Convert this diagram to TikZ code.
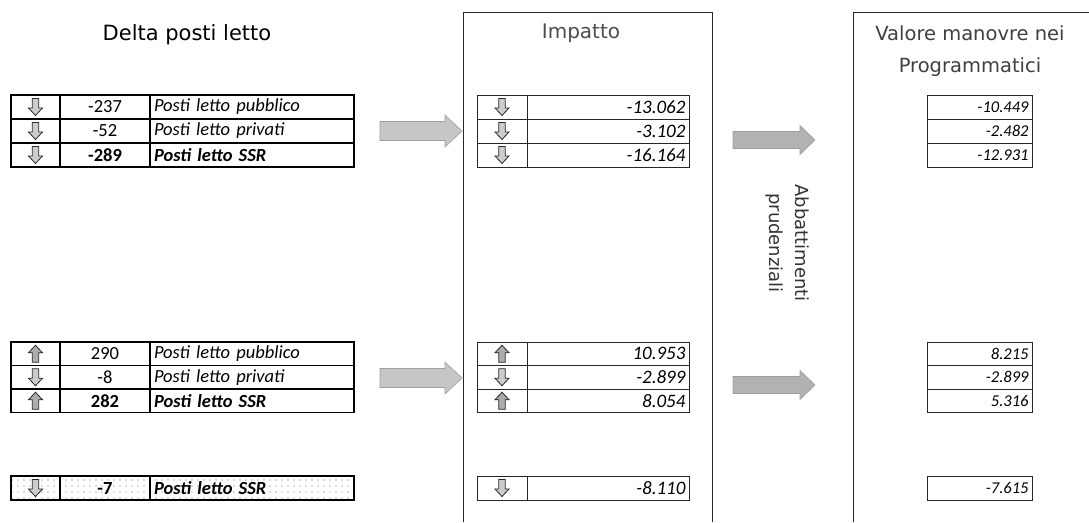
\documentclass[tikz,border=0pt]{standalone}
\usepackage{fontspec}
\setmainfont{Carlito}
\newfontfamily\titlefont{DejaVu Sans}
\usetikzlibrary{patterns.meta}
\newcommand{\lfont}{\fontsize{18.5}{21}\selectfont}
\newcommand{\ifont}{\fontsize{19}{21}\selectfont}
\newcommand{\vfont}{\fontsize{16.5}{19}\selectfont}
\newcommand{\Lrow}[7]{%
  \node[lc,#7,minimum width=49,minimum height=#3] (#1i) at (11,#2) {};
  \pic at (#1i.center) {#4};
  \node[lc,#7,minimum width=90,minimum height=#3] (#1n) at (60,#2) {#5};
  \node[lc,#7,minimum width=204,minimum height=#3,text width=196,align=left] (#1t) at (150,#2) {\itshape #6};
}
\newcommand{\Irow}[5]{%
  \node[ic,minimum width=50,minimum height=#3] (#1i) at (477,#2) {};
  \pic at (#1i.center) {#4};
  \node[ic,minimum width=162,minimum height=#3,text width=155,align=right] (#1v) at (527,#2) {#5};
}
\newcommand{\Vrow}[4]{%
  \node[vc,minimum width=105,minimum height=#3,text width=98,align=right] (#1) at (927,#2) {#4};
}
\begin{document}
\begin{tikzpicture}[x=1pt,y=-1pt,
  lc/.style={draw=black,line width=1.5pt,anchor=north west,inner ysep=0pt,inner xsep=4pt,outer sep=0pt,font=\lfont},
  lbold/.style={font=\lfont\bfseries},
  ldots/.style={pattern={Dots[radius=0.6pt,distance=6pt]},pattern color=black!60},
  ic/.style={draw=black!85,line width=0.8pt,anchor=north west,inner ysep=0pt,inner xsep=3.5pt,outer sep=0pt,font=\ifont\itshape},
  vc/.style={draw=black!85,line width=0.9pt,anchor=north west,inner ysep=0pt,inner xsep=3.5pt,outer sep=0pt,font=\vfont\itshape},
  title/.style={font=\titlefont\fontsize{20}{24}\selectfont,inner sep=0pt},
  iconline/.style={draw=black!85,line width=0.8pt,line join=miter},
  bigarr/.style={draw=gray!75,line width=0.6pt},
  boxline/.style={draw=black!85,line width=1pt},
  dnicon/.pic={\path[iconline,fill=gray!40] (-3.2,-8.5) -- (3.2,-8.5) -- (3.2,1) -- (7,1) -- (0,8.5) -- (-7,1) -- (-3.2,1) -- cycle;},
  upicon/.pic={\path[iconline,fill=gray!65] (-3.2,8.5) -- (3.2,8.5) -- (3.2,-1) -- (7,-1) -- (0,-8.5) -- (-7,-1) -- (-3.2,-1) -- cycle;},
  bigarrow/.pic={\path[bigarr,fill=gray!45] (0,-9.5) -- (65,-9.5) -- (65,-16) -- (82,0) -- (65,16) -- (65,9.5) -- (0,9.5) -- cycle;},
  midarrow/.pic={\path[bigarr,fill=gray!60] (0,-8.5) -- (67,-8.5) -- (67,-14.5) -- (82,0) -- (67,14.5) -- (67,8.5) -- (0,8.5) -- cycle;}
]
\useasboundingbox (0,0) rectangle (1089,522);

% titles
\node[title,font=\titlefont\fontsize{21}{24}\selectfont] (tdelta) at (187,35) {Delta posti letto};
\node[title,text=black!70] (timp) at (581,33) {Impatto};
\node[title,text=black!75,font=\titlefont\fontsize{19.5}{24}\selectfont] (tval1) at (970,33) {Valore manovre nei};
\node[title,text=black!75,font=\titlefont\fontsize{19.5}{24}\selectfont] (tval2) at (970,67) {Programmatici};

% frames
\draw[boxline] (463,522) -- (463,12) -- (712,12) -- (712,522);
\draw[boxline] (853,522) -- (853,12) -- (1089,12);

% left tables
\Lrow{la}{95}{24}{dnicon}{-237}{Posti letto pubblico}{}
\Lrow{lb}{119}{24}{dnicon}{-52}{Posti letto privati}{}
\Lrow{lc}{143}{24}{dnicon}{-289}{Posti letto SSR}{lbold}
\Lrow{ld}{342}{23.5}{upicon}{290}{Posti letto pubblico}{}
\Lrow{le}{365.5}{23.5}{dnicon}{-8}{Posti letto privati}{}
\Lrow{lf}{389}{23.5}{upicon}{282}{Posti letto SSR}{lbold}
\Lrow{lg}{476}{24}{dnicon}{-7}{Posti letto SSR}{lbold,ldots}

% impatto tables
\Irow{ia}{95}{24}{dnicon}{-13.062}
\Irow{ib}{119}{24}{dnicon}{-3.102}
\Irow{ic}{143}{24}{dnicon}{-16.164}
\Irow{id}{342}{23.5}{upicon}{10.953}
\Irow{ie}{365.5}{23.5}{dnicon}{-2.899}
\Irow{if}{389}{23.5}{upicon}{8.054}
\Irow{ig}{476}{24}{dnicon}{-8.110}

% values tables
\Vrow{va}{95}{24}{-10.449}
\Vrow{vb}{119}{24}{-2.482}
\Vrow{vc}{143}{24}{-12.931}
\Vrow{vd}{342}{23.5}{8.215}
\Vrow{ve}{365.5}{23.5}{-2.899}
\Vrow{vf}{389}{23.5}{5.316}
\Vrow{vg}{476}{24}{-7.615}

% big arrows
\pic (a1) at (380,131) {bigarrow};
\pic (a2) at (380,378) {bigarrow};
\pic (a3) at (733,140) {midarrow};
\pic (a4) at (733,385) {midarrow};

% rotated label
\node[rotate=-90,align=center,font=\titlefont\fontsize{18}{26}\selectfont,text=black!80,inner sep=0pt] (abb) at (787,243) {Abbattimenti\\prudenziali};
\end{tikzpicture}
\end{document}
